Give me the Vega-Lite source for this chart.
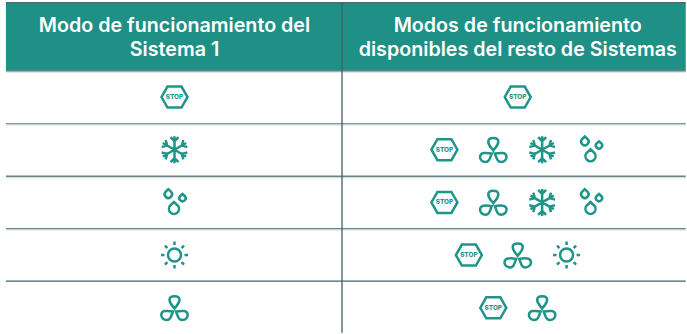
{"$schema":"https://vega.github.io/schema/vega-lite/v6.json","width":687,"height":334,"autosize":{"type":"fit","contains":"padding"},"padding":0,"background":"#ffffff","config":{"view":{"stroke":null}},"datasets":{"header":[{"left":-17.95,"right":9.878,"top":-0.783,"bottom":0.5}],"hlines":[{"row":0.525,"tone":"s"},{"row":1.527,"tone":"s"},{"row":2.527,"tone":"s"},{"row":3.52,"tone":"s"},{"row":-0.79,"tone":"a"},{"row":0.504,"tone":"b"},{"row":1.504,"tone":"c"},{"row":2.504,"tone":"d"},{"row":3.498,"tone":"d"},{"row":4.496,"tone":"e"}],"vline":[{"slot":-4.192,"from":-0.79,"to":5.472}],"titles":[{"slot":-11.05,"row":-0.34,"t":"Modo de funcionamiento del"},{"slot":-11.05,"row":0.113,"t":"Sistema 1"},{"slot":3,"row":-0.34,"t":"Modos de funcionamiento"},{"slot":3,"row":0.113,"t":"disponibles del resto de Sistemas"}],"icons":[{"row":1,"slot":-11.05,"icon":"stop"},{"row":2,"slot":-11.05,"icon":"snow"},{"row":3,"slot":-11.05,"icon":"drop"},{"row":4,"slot":-11.05,"icon":"sun"},{"row":5,"slot":-11.05,"icon":"fan"},{"row":1,"slot":3,"icon":"stop"},{"row":2,"slot":0,"icon":"stop"},{"row":2,"slot":2,"icon":"fan"},{"row":2,"slot":4,"icon":"snow"},{"row":2,"slot":6,"icon":"drop"},{"row":3,"slot":0,"icon":"stop"},{"row":3,"slot":2,"icon":"fan"},{"row":3,"slot":4,"icon":"snow"},{"row":3,"slot":6,"icon":"drop"},{"row":4,"slot":1,"icon":"stop"},{"row":4,"slot":3,"icon":"fan"},{"row":4,"slot":5,"icon":"sun"},{"row":5,"slot":2,"icon":"stop"},{"row":5,"slot":4,"icon":"fan"}]},"layer":[{"data":{"name":"header"},"mark":{"type":"rect","color":"#1f9085"},"encoding":{"x":{"field":"left","type":"quantitative","scale":{"domain":[-18.193,9.848],"nice":false,"zero":false},"axis":null},"x2":{"field":"right"},"y":{"field":"top","type":"quantitative","scale":{"domain":[-0.842,5.46],"reverse":true,"nice":false,"zero":false},"axis":null},"y2":{"field":"bottom"}}},{"data":{"name":"hlines"},"mark":{"type":"rule","strokeWidth":1.3},"encoding":{"x":{"datum":-17.95,"type":"quantitative"},"x2":{"datum":9.878},"y":{"field":"row","type":"quantitative"},"color":{"field":"tone","type":"nominal","legend":null,"scale":{"domain":["s","a","b","c","d","e"],"range":["#d8dfdf","#4a6a6c","#5f7a7c","#84989a","#6b8484","#3f6366"]}}}},{"data":{"name":"vline"},"mark":{"type":"rule","strokeWidth":1.3,"color":"#3f5f63"},"encoding":{"x":{"field":"slot","type":"quantitative"},"y":{"field":"from","type":"quantitative"},"y2":{"field":"to"}}},{"data":{"name":"titles"},"mark":{"type":"text","font":"Inter","fontSize":19.7,"fontWeight":600,"color":"#ffffff","align":"center","baseline":"middle"},"encoding":{"x":{"field":"slot","type":"quantitative"},"y":{"field":"row","type":"quantitative"},"text":{"field":"t"}}},{"data":{"name":"icons"},"mark":{"type":"point","filled":false,"size":4,"strokeWidth":2.5,"color":"#1f9488","opacity":1},"encoding":{"x":{"field":"slot","type":"quantitative"},"y":{"field":"row","type":"quantitative"},"shape":{"field":"icon","type":"nominal","legend":null,"scale":{"domain":["stop","fan","snow","drop","sun"],"range":["M-13 0L-7 -10.5L7 -10.5L13 0L7 10.5L-7 10.5Z","M0 0.8C-1.5 -1.5 -5 -4 -5 -8C-5 -11 -2.5 -11.6 0 -11.6C2.5 -11.6 5 -11 5 -8C5 -4 1.5 -1.5 0 0.8ZM1.6 3.8C4.5 3.2 7 3 9.5 3.3C12 3.6 13.2 5.4 13.2 7.6C13.2 10 10.8 12.3 8 12.3C5.4 12.3 3.8 10 3.2 8.2C2.8 7 2.1 5.4 1.6 3.8ZM-1.6 3.8C-4.5 3.2 -7 3 -9.5 3.3C-12 3.6 -13.2 5.4 -13.2 7.6C-13.2 10 -10.8 12.3 -8 12.3C-5.4 12.3 -3.8 10 -3.2 8.2C-2.8 7 -2.1 5.4 -1.6 3.8Z","M0 -13.5L0 13.5M11.69 -6.75L-11.69 6.75M11.69 6.75L-11.69 -6.75M-4 -12.5L0 -8.5L4 -12.5M8.83 -9.71L7.36 -4.25L12.83 -2.79M12.83 2.79L7.36 4.25L8.83 9.71M4 12.5L0 8.5L-4 12.5M-8.83 9.71L-7.36 4.25L-12.83 2.79M-12.83 -2.79L-7.36 -4.25L-8.83 -9.71","M-6.15 -13.2L-9.11 -10.37A3.7 3.7 0 1 0 -3.19 -10.37ZM8 -8.4L5.48 -6.19A3.15 3.15 0 1 0 10.52 -6.19ZM-0.5 -0.4L-4.54 3.47A5.05 5.05 0 1 0 3.54 3.47Z","M-6.5 0A6.5 6.5 0 1 0 6.5 0A6.5 6.5 0 1 0 -6.5 0ZM0 -10L0 -13.5M0 10L0 13.5M-10 0L-13.5 0M10 0L13.5 0M7.07 -7.07L9.55 -9.55M-7.07 -7.07L-9.55 -9.55M7.07 7.07L9.55 9.55M-7.07 7.07L-9.55 9.55"]}}}},{"data":{"name":"icons"},"transform":[{"filter":"datum.icon === 'stop'"}],"mark":{"type":"text","text":"STOP","font":"Inter","fontSize":6.4,"fontWeight":800,"color":"#1f9488","align":"center","baseline":"middle"},"encoding":{"x":{"field":"slot","type":"quantitative"},"y":{"field":"row","type":"quantitative"}}}]}
